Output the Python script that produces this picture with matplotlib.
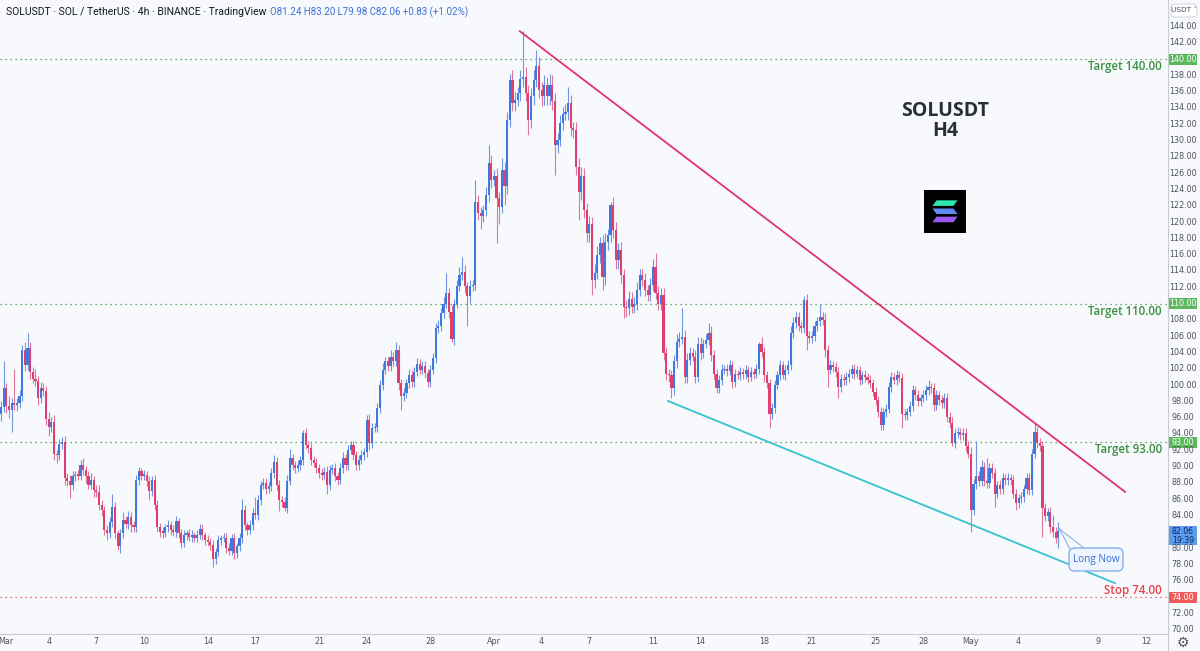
import numpy as np
import matplotlib
matplotlib.use("Agg")
import matplotlib.pyplot as plt
import matplotlib.transforms as mtransforms
from matplotlib.patches import FancyBboxPatch, Rectangle, Polygon

# SOLUSDT 4h candles, Mar 1 -> May 6 (open of each bar = previous close)
first_open = 96.4
closes = [
    97.3, 99.6, 97.4, 97.0, 97.8, 97.6, 97.8, 98.6, 104.3, 102.5, 104.5, 101.6, 100.8, 100.5, 98.4, 99.6, 99.3, 95.9, 94.9, 95.5,
    91.6, 91.4, 92.8, 93.0, 88.6, 88.2, 87.7, 88.8, 89.0, 88.9, 90.2, 89.6, 88.8, 87.8, 88.4, 87.1, 86.9, 85.3, 84.7, 82.2,
    81.8, 83.2, 85.1, 81.8, 80.2, 81.8, 83.4, 83.0, 83.8, 82.8, 82.6, 88.4, 89.4, 88.9, 89.0, 88.2, 87.0, 88.4, 85.3, 82.6,
    82.0, 81.9, 82.6, 82.8, 82.2, 82.0, 83.3, 81.8, 80.6, 81.6, 81.8, 81.4, 81.6, 81.3, 81.6, 82.4, 81.6, 81.0, 80.8, 80.4,
    78.7, 79.5, 81.0, 81.2, 81.3, 80.0, 79.7, 81.2, 79.4, 80.2, 81.2, 84.7, 82.8, 82.2, 82.8, 84.3, 84.1, 85.9, 87.7, 88.0,
    87.3, 87.6, 89.2, 90.6, 87.7, 85.9, 85.7, 84.9, 88.2, 91.0, 90.2, 89.8, 90.2, 90.8, 94.1, 92.7, 92.3, 90.8, 90.5, 89.8,
    89.2, 89.0, 89.3, 87.7, 89.6, 89.8, 88.8, 88.4, 89.8, 91.0, 90.2, 92.0, 92.6, 91.4, 90.2, 90.8, 91.4, 91.8, 95.7, 92.9,
    94.7, 94.9, 97.2, 100.0, 101.9, 102.9, 102.3, 103.5, 102.9, 104.3, 100.2, 98.6, 99.0, 100.2, 101.2, 100.4, 101.6, 102.6, 101.9, 102.3,
    101.5, 100.4, 101.9, 103.3, 107.0, 107.2, 108.8, 110.0, 111.3, 109.0, 105.7, 110.0, 112.1, 113.5, 113.9, 112.1, 110.9, 112.1, 112.3, 122.5,
    121.1, 120.8, 121.5, 123.3, 127.2, 125.2, 125.6, 122.9, 121.9, 126.4, 124.4, 132.5, 137.4, 134.6, 135.0, 135.8, 137.6, 137.8, 135.8, 132.5,
    135.4, 137.4, 139.1, 136.2, 135.4, 136.8, 135.4, 136.8, 134.8, 129.5, 130.1, 132.1, 133.3, 133.5, 134.6, 131.5, 131.3, 126.8, 123.7, 125.6,
    121.5, 118.6, 119.8, 112.9, 113.8, 116.0, 117.4, 113.3, 117.6, 118.4, 122.1, 119.0, 115.3, 116.6, 113.5, 109.6, 109.4, 110.6, 109.6, 110.0,
    111.7, 113.5, 112.9, 111.7, 111.1, 112.3, 114.5, 111.3, 110.0, 111.1, 103.9, 101.4, 101.2, 99.6, 102.9, 105.3, 105.7, 105.9, 101.0, 103.1,
    103.9, 103.5, 101.0, 105.1, 103.9, 105.1, 105.5, 106.4, 103.7, 101.4, 99.6, 100.6, 101.8, 102.0, 101.7, 102.5, 100.4, 101.4, 101.2, 101.6,
    101.3, 101.9, 101.0, 101.6, 101.4, 102.0, 105.1, 104.1, 101.2, 100.2, 96.5, 97.2, 100.0, 101.2, 102.5, 101.2, 101.9, 102.5, 106.4, 107.6,
    108.4, 107.2, 107.0, 110.4, 106.0, 105.8, 106.0, 107.2, 107.8, 108.4, 108.0, 104.3, 101.9, 102.5, 102.2, 101.6, 99.8, 100.8, 100.6, 101.0,
    101.4, 102.0, 101.4, 101.8, 100.6, 101.2, 101.0, 100.6, 100.2, 99.2, 98.2, 96.7, 95.1, 96.7, 97.1, 99.8, 101.0, 100.6, 101.2, 100.9,
    96.5, 96.3, 96.7, 97.4, 99.4, 98.8, 98.0, 98.4, 98.8, 99.4, 99.8, 99.6, 97.6, 98.8, 98.2, 97.8, 98.4, 96.1, 95.3, 92.9,
    94.1, 94.2, 93.9, 94.1, 92.5, 91.6, 84.7, 87.9, 88.8, 88.2, 90.0, 88.2, 88.0, 89.8, 89.2, 86.7, 87.7, 87.3, 88.6, 88.4,
    88.6, 88.4, 86.7, 85.5, 86.1, 86.3, 87.3, 88.6, 87.1, 91.6, 94.3, 92.9, 92.5, 84.9, 83.9, 84.4, 82.6, 82.0, 81.24, 82.06,
]
# upper / lower wick length above/below the body
wick_up = [
    0.8, 3.3, 0.6, 1.2, 0.6, 4.2, 0.6, 0.8, 0.6, 1.0, 1.9, 0.8, 0.6, 1.2, 0.6, 0.8, 0.6, 0.6, 0.8, 0.6,
    0.8, 0.4, 0.6, 0.6, 0.8, 0.6, 0.8, 0.6, 0.5, 0.6, 0.6, 0.8, 0.5, 0.6, 0.8, 0.5, 0.6, 0.8, 0.6, 0.5,
    0.6, 0.6, 1.6, 0.6, 0.4, 0.6, 1.0, 0.6, 0.8, 0.6, 0.5, 0.6, 0.6, 0.4, 0.6, 0.5, 0.6, 0.4, 0.6, 0.6,
    0.5, 0.6, 0.4, 0.6, 0.5, 0.6, 0.6, 0.4, 0.5, 0.6, 0.4, 0.5, 0.6, 0.4, 0.6, 0.6, 0.5, 0.4, 0.6, 0.5,
    0.6, 0.5, 0.6, 0.4, 0.6, 0.5, 0.6, 0.5, 0.6, 0.4, 0.6, 1.3, 0.6, 0.4, 0.6, 0.6, 2.0, 0.6, 0.5, 0.6,
    0.6, 0.5, 0.6, 0.8, 0.6, 0.6, 0.5, 0.6, 0.8, 1.2, 0.6, 0.5, 0.6, 0.5, 0.4, 0.6, 0.5, 0.6, 0.5, 0.6,
    0.5, 0.6, 0.6, 0.8, 0.6, 0.5, 0.6, 0.5, 0.6, 0.8, 0.6, 0.6, 0.5, 0.6, 0.5, 0.6, 0.6, 0.5, 0.6, 0.8,
    0.6, 0.5, 0.6, 0.6, 0.8, 0.6, 0.6, 0.8, 0.6, 1.0, 0.6, 0.5, 0.6, 0.6, 0.8, 0.6, 0.6, 0.7, 0.6, 0.6,
    0.6, 0.5, 0.6, 0.6, 0.6, 0.8, 0.6, 0.8, 2.4, 0.6, 0.8, 0.6, 0.8, 1.0, 1.8, 0.8, 0.6, 0.8, 0.6, 2.7,
    0.8, 0.8, 0.6, 1.0, 2.2, 1.0, 0.8, 1.0, 0.8, 1.4, 1.0, 1.0, 0.8, 1.2, 1.0, 0.8, 1.0, 5.6, 1.2, 1.0,
    1.0, 1.2, 2.0, 1.2, 1.0, 1.2, 1.0, 1.4, 1.2, 1.0, 0.8, 1.0, 0.8, 1.0, 2.0, 1.0, 0.8, 1.0, 1.0, 1.2,
    1.0, 0.8, 1.0, 0.8, 1.0, 1.0, 0.8, 1.0, 1.0, 0.8, 0.4, 1.0, 1.0, 0.8, 1.0, 0.8, 0.8, 1.0, 0.8, 0.8,
    1.0, 0.8, 0.8, 0.8, 0.6, 0.8, 1.0, 1.7, 0.8, 0.8, 0.8, 0.8, 0.6, 0.6, 0.8, 1.0, 0.8, 3.5, 0.8, 0.8,
    0.8, 0.6, 0.8, 0.8, 0.8, 0.6, 0.8, 1.2, 0.8, 0.6, 0.6, 0.6, 0.8, 0.5, 0.6, 0.6, 0.5, 0.6, 0.5, 0.6,
    0.5, 0.6, 0.5, 0.6, 0.5, 0.6, 0.2, 0.8, 0.6, 0.5, 0.6, 0.6, 0.6, 0.5, 0.6, 0.5, 0.6, 0.6, 0.8, 0.8,
    0.6, 0.6, 0.5, 0.5, 0.8, 0.6, 0.6, 0.6, 0.6, 1.6, 0.6, 0.8, 0.6, 0.6, 0.5, 0.6, 0.6, 0.6, 0.5, 0.6,
    0.6, 0.5, 0.6, 0.5, 0.6, 0.5, 0.6, 0.5, 0.6, 0.5, 0.6, 0.5, 0.6, 0.5, 0.6, 0.6, 0.6, 0.5, 0.6, 0.5,
    0.6, 0.6, 0.5, 0.6, 0.6, 0.5, 0.6, 0.5, 0.6, 0.6, 0.8, 0.5, 0.6, 0.6, 0.5, 0.6, 0.6, 0.6, 0.6, 0.8,
    0.6, 0.6, 0.5, 0.6, 0.6, 0.6, 0.8, 0.6, 4.3, 0.6, 0.8, 0.6, 2.8, 0.6, 0.6, 0.6, 0.5, 0.6, 0.6, 0.5,
    0.6, 0.5, 0.6, 0.6, 0.5, 0.6, 0.5, 0.6, 0.6, 0.6, 1.0, 0.6, 0.6, 0.6, 0.6, 0.5, 0.6, 1.5, 0.6, 1.14,
]
wick_dn = [
    0.8, 0.6, 0.8, 1.0, 2.7, 0.6, 0.8, 0.6, 0.6, 0.8, 0.6, 0.8, 0.6, 0.6, 0.8, 0.6, 0.6, 0.8, 1.2, 0.6,
    0.8, 0.9, 0.6, 0.6, 0.8, 0.6, 1.6, 0.6, 0.6, 0.5, 0.6, 0.6, 0.8, 0.6, 0.6, 0.8, 0.6, 0.6, 0.8, 0.6,
    0.8, 0.6, 0.6, 0.6, 0.4, 0.8, 0.6, 0.5, 0.6, 0.8, 0.6, 0.6, 0.6, 0.5, 0.6, 0.6, 1.1, 0.6, 0.6, 0.6,
    0.6, 0.6, 0.5, 0.6, 0.6, 0.5, 0.6, 0.6, 0.6, 0.5, 0.6, 0.5, 0.6, 0.5, 0.6, 0.5, 0.6, 0.6, 0.5, 0.6,
    1.0, 0.6, 0.5, 0.6, 0.5, 0.6, 0.6, 0.5, 0.7, 0.6, 0.5, 0.6, 0.6, 0.6, 0.5, 0.6, 0.5, 0.6, 0.6, 0.5,
    0.6, 0.5, 0.6, 0.6, 0.6, 1.4, 0.6, 0.4, 0.6, 0.5, 0.6, 0.6, 0.5, 0.6, 0.6, 0.6, 0.6, 0.6, 0.5, 0.6,
    0.6, 0.6, 0.5, 1.0, 0.6, 0.5, 0.6, 0.6, 0.5, 0.6, 0.6, 0.6, 0.5, 0.6, 0.6, 0.6, 0.5, 0.6, 0.6, 0.9,
    0.6, 0.5, 0.6, 0.6, 0.6, 0.5, 0.6, 0.6, 0.6, 0.6, 0.8, 1.6, 0.6, 0.6, 0.6, 0.6, 0.6, 0.5, 0.6, 0.6,
    0.6, 0.6, 0.6, 0.6, 0.6, 0.6, 0.6, 0.6, 0.6, 0.8, 0.4, 0.8, 0.6, 0.6, 0.6, 0.8, 3.7, 0.8, 0.6, 0.6,
    0.8, 1.6, 0.8, 0.8, 0.8, 1.0, 0.8, 5.5, 2.1, 0.8, 2.3, 1.0, 0.8, 1.0, 1.0, 0.8, 1.0, 1.0, 1.0, 1.8,
    1.0, 1.0, 0.8, 1.0, 1.2, 1.0, 1.0, 1.0, 1.0, 3.7, 1.0, 0.8, 0.8, 0.8, 1.0, 1.0, 1.0, 1.0, 3.4, 1.0,
    1.0, 1.0, 1.0, 1.8, 1.0, 0.8, 1.0, 1.6, 1.0, 1.0, 0.8, 1.0, 1.0, 1.0, 1.0, 1.4, 1.0, 0.8, 0.8, 0.8,
    0.8, 0.8, 0.8, 0.8, 0.8, 0.8, 0.8, 0.8, 0.8, 0.8, 0.8, 0.8, 0.8, 1.2, 0.8, 0.8, 0.6, 0.6, 0.8, 0.8,
    0.6, 0.6, 0.8, 0.6, 0.8, 0.6, 0.6, 0.6, 0.8, 0.8, 0.6, 0.6, 0.6, 0.5, 0.6, 0.5, 0.8, 0.6, 0.5, 0.6,
    0.5, 0.6, 0.6, 0.5, 0.6, 0.5, 0.6, 0.6, 0.8, 0.6, 1.8, 0.6, 0.6, 0.5, 0.6, 0.5, 0.6, 0.5, 0.6, 0.6,
    0.6, 0.6, 0.6, 0.6, 1.7, 0.6, 0.6, 0.6, 0.6, 0.6, 0.6, 0.8, 2.1, 0.6, 0.6, 0.6, 1.4, 0.6, 0.6, 0.6,
    0.6, 0.5, 0.6, 0.5, 0.6, 0.5, 0.6, 0.5, 0.6, 0.6, 0.6, 0.6, 0.6, 0.6, 0.6, 0.5, 0.6, 0.5, 0.6, 0.5,
    1.8, 0.6, 0.6, 0.5, 0.6, 0.6, 0.6, 0.6, 0.5, 0.6, 0.6, 0.6, 0.8, 0.6, 0.6, 0.6, 0.6, 0.6, 0.6, 0.4,
    0.6, 0.6, 0.6, 0.6, 0.6, 0.6, 2.7, 0.6, 0.6, 0.6, 0.6, 0.6, 0.6, 0.6, 0.6, 1.6, 0.6, 0.6, 0.6, 0.6,
    0.6, 0.6, 0.6, 0.8, 0.6, 0.6, 0.6, 0.6, 0.6, 0.6, 0.6, 0.6, 0.6, 3.5, 0.6, 0.6, 0.8, 0.6, 0.6, 1.26,
]

# x-axis labels: (day offset from Mar 1, text)
date_days = [0, 3, 6, 9, 13, 16, 20, 23, 27, 31, 34, 37, 41, 44, 48, 51, 55, 58, 61, 64, 69, 72]
date_labels = ["Mar", "4", "7", "10", "14", "17", "21", "24", "28", "Apr", "4", "7",
               "11", "14", "18", "21", "25", "28", "May", "4", "9", "12"]

targets = [140, 110, 93]
stop = 74
last_price = 82.06

# drawn trend lines (bar index, price)
resist_x = [195.8, 424.2]
resist_y = [143.4, 86.9]
support_x = [251.7, 420.4]
support_y = [98.05, 75.7]

BG = "#f7f9fc"
UP, DN = "#3f78df", "#de3f6e"
UP_W, DN_W = "#6f95e2", "#e0769a"
GREEN, RED = "#3a9140", "#ec3f48"
AXIS_TXT = "#50535e"

W, H = 1200, 651
PX_BAR = 2.65      # pixels per 4h bar
PX_USD = 8.152     # pixels per 1 USDT
Y140 = 59          # pixel row of the 140 level


def px2x(px):
    return (px - 1) / PX_BAR


def py2p(py):
    return 140 - (py - Y140) / PX_USD


fig = plt.figure(figsize=(W / 100, H / 100), dpi=100)
fig.patch.set_facecolor(BG)
ax = fig.add_axes([0, 17 / H, 1168 / W, 634 / H])
ax.set_facecolor(BG)
ax.set_xlim(px2x(0), px2x(1168))
ax.set_ylim(py2p(634), py2p(0))
ax.set_xticks([])
ax.set_yticks([])
for s in ["top", "left"]:
    ax.spines[s].set_visible(False)
for s in ["right", "bottom"]:
    ax.spines[s].set_color("#c9ccd3")
    ax.spines[s].set_linewidth(0.8)

# candles
c = np.array(closes)
o = np.array([first_open] + closes[:-1])
idx = np.arange(len(c))
up = c >= o
hi = np.maximum(o, c) + np.array(wick_up)
lo = np.minimum(o, c) - np.array(wick_dn)
ax.vlines(idx, lo, hi, colors=np.where(up, UP_W, DN_W), linewidth=0.8, zorder=2)
ax.bar(idx, np.maximum(np.abs(c - o), 0.15), bottom=np.minimum(o, c), width=0.8,
       color=np.where(up, UP, DN), linewidth=0, zorder=3)

# target / stop levels
for t in targets:
    ax.axhline(t, color=GREEN, linestyle=(0, (1, 3)), linewidth=0.9, zorder=1)
    ax.text(px2x(1162), t - 0.95, f"Target {t:.2f}", color=GREEN, fontsize=8.3,
            ha="right", va="center", family="Open Sans", fontweight="semibold")
ax.axhline(stop, color=RED, linestyle=(0, (1, 3)), linewidth=0.9, zorder=1)
ax.text(px2x(1162), stop + 0.85, f"Stop {stop:.2f}", color=RED, fontsize=8.3,
        ha="right", va="center", family="Open Sans", fontweight="semibold")

# trend lines
ax.plot(resist_x, resist_y, color="#e0336b", linewidth=1.3, zorder=4)
ax.plot(support_x, support_y, color="#35c3cf", linewidth=1.3, zorder=4)

# "Long Now" callout
anchor = (len(c) - 1 + 0.4, c[-1] + 0.3)
ax.plot([anchor[0], px2x(1072)], [anchor[1], py2p(553)], color="#86b2ea", linewidth=0.8, zorder=5)
ax.plot([anchor[0], px2x(1084)], [anchor[1], py2p(548)], color="#86b2ea", linewidth=0.8, zorder=5)
box = FancyBboxPatch((px2x(1069), py2p(571)), px2x(1123) - px2x(1069), py2p(548) - py2p(571),
                     boxstyle="round,pad=0,rounding_size=2.2", facecolor="#eef4fd",
                     edgecolor="#86b2ea", linewidth=1.0, zorder=6, mutation_aspect=0.3)
ax.add_patch(box)
ax.text(px2x(1096), py2p(559.5), "Long Now", color="#3a6fd8", fontsize=7.2,
        ha="center", va="center", zorder=7, family="Open Sans")

# headline
fig.text(945 / W, 1 - 111 / H, "SOLUSDT", fontsize=14, fontweight="bold", color="#2a2e39",
         ha="center", va="center", family="Open Sans")
fig.text(945 / W, 1 - 131 / H, "H4", fontsize=14, fontweight="bold", color="#2a2e39",
         ha="center", va="center", family="Open Sans")

# Solana logo
lax = fig.add_axes([924 / W, 1 - 233 / H, 42 / W, 43 / H])
lax.set_facecolor("black")
lax.set_xlim(0, 1)
lax.set_ylim(0, 1)
lax.set_xticks([])
lax.set_yticks([])
for s in lax.spines.values():
    s.set_visible(False)
bars = [(0.63, 0.76, "#2ee6b0", 1), (0.44, 0.57, "#5d8cf0", -1), (0.25, 0.38, "#9b58f2", 1)]
for y0, y1, col, d in bars:
    if d > 0:
        pts = [(0.2, y0), (0.7, y0), (0.8, y1), (0.3, y1)]
    else:
        pts = [(0.3, y0), (0.8, y0), (0.7, y1), (0.2, y1)]
    lax.add_patch(Polygon(pts, closed=True, facecolor=col, edgecolor="none"))

# price scale
ptrans = mtransforms.blended_transform_factory(fig.transFigure, ax.transData)
for p in range(70, 146, 2):
    if p in (140, 110, 74, 82):
        continue
    ax.text(1183 / W, p, f"{p:.2f}", transform=ptrans, fontsize=5.8, color=AXIS_TXT,
            ha="center", va="center", clip_on=False)
badge_h = 11 / PX_USD
for p, col, txt in [(140, "#5cb85c", "#ffffff"), (110, "#5cb85c", "#ffffff"),
                    (93, "#5cb85c", "#ffffff"), (74, "#f05a5a", "#ffffff")]:
    ax.add_patch(Rectangle((1169 / W, p - badge_h / 2), 28 / W, badge_h, transform=ptrans,
                           facecolor=col, edgecolor="none", clip_on=False))
    ax.text(1183 / W, p, f"{p:.2f}", transform=ptrans, fontsize=5.8, color=txt,
            ha="center", va="center", clip_on=False)
ax.add_patch(Rectangle((1169 / W, py2p(545)), 28 / W, py2p(526) - py2p(545), transform=ptrans,
                       facecolor="#5b9bf0", edgecolor="none", clip_on=False))
ax.text(1183 / W, py2p(531), f"{last_price:.2f}", transform=ptrans, fontsize=5.6,
        color="#10285a", ha="center", va="center", clip_on=False)
ax.text(1183 / W, py2p(540.5), "19:39", transform=ptrans, fontsize=5.6,
        color="#10285a", ha="center", va="center", clip_on=False)

# USDT selector and gear
fig.patches.append(FancyBboxPatch((1171 / W, 1 - 17 / H), 26 / W, 13 / H,
                                  boxstyle="round,pad=0,rounding_size=0.004",
                                  facecolor="#ffffff", edgecolor="#d1d4dc", linewidth=0.7,
                                  transform=fig.transFigure))
fig.text(1184 / W, 1 - 10.5 / H, "USDT ˅", fontsize=5.3, color=AXIS_TXT, ha="center", va="center")
fig.text(1183 / W, 1 - 643 / H, "⚙", fontsize=10, color="#50535e", ha="center", va="center")
fig.add_artist(plt.Line2D([1168 / W, 1168 / W], [0, 17 / H], color="#c9ccd3", linewidth=0.8,
                          transform=fig.transFigure))

# date axis
dtrans = mtransforms.blended_transform_factory(ax.transData, fig.transFigure)
for d, lab in zip(date_days, date_labels):
    xi = d * 6
    ax.text(max(xi, px2x(6)), 1 - 642 / H, lab, transform=dtrans, fontsize=5.8, color=AXIS_TXT,
            ha="center", va="center", clip_on=False)

# header
fig.text(6 / W, 1 - 12 / H, "SOLUSDT · SOL / TetherUS · 4h · BINANCE · TradingView",
         fontsize=7.5, color="#131722", ha="left", va="center", family="Roboto")
fig.text(270 / W, 1 - 12 / H, "O81.24 H83.20 L79.98 C82.06 +0.83 (+1.02%)",
         fontsize=7, color="#3a6fd8", ha="left", va="center", family="Roboto")

fig.savefig("out.png", dpi=100, facecolor=BG)
